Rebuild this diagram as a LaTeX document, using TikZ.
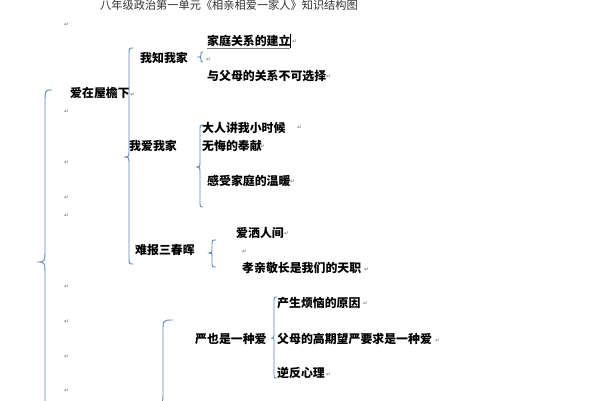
\documentclass[tikz,border=0pt]{standalone}
\usepackage{fontspec}
\newfontfamily\cjk{Noto Sans CJK SC}
\newfontfamily\dv{DejaVu Sans}
\definecolor{brc}{RGB}{95,135,185}
\tikzset{
  t/.style={anchor=west, inner sep=0pt, font=\cjk\bfseries\fontsize{11.9}{12}\selectfont},
  ttl/.style={anchor=west, inner sep=0pt, font=\cjk\fontsize{11.2}{12}\selectfont, text=black!80},
  pm/.style={anchor=west, inner sep=0pt, font=\dv\fontsize{6}{6}\selectfont, text=black!55},
  br/.style={draw=brc, line width=0.9pt},
}
\newcommand\mybrace[7]{% xe xl xc yt ym yb r
  \draw[br] (#1,#4) .. controls (#2,#4) .. (#2,#4+#7) -- (#2,#5-#7)
    .. controls (#2,#5) .. (#3,#5) .. controls (#2,#5) .. (#2,#5+#7)
    -- (#2,#6-#7) .. controls (#2,#6) .. (#1,#6);}
\begin{document}
\begin{tikzpicture}[x=1pt,y=-1pt]
\useasboundingbox (0,0) rectangle (598,400);
\fill[white] (0,0) rectangle (598,400);
\clip (0,0) rectangle (598,400);
% title
\node[ttl] (title) at (100,5) {八年级政治第一单元《相亲相爱一家人》知识结构图};
% left column paragraph marks
\foreach \yy [count=\i] in {25,112,163,198,216,287,322,357,391}
  \node[pm] (lp\i) at (64,\yy) {↵};
% level 1
\node[t] (a) at (70,93) {爱在屋檐下};
\node[pm] (ap) at (130,95) {↵};
% level 2
\node[t] (a1) at (140,58) {我知我家};
\node[t] (a2) at (129,146) {我爱我家};
\node[t] (a3) at (135,250) {难报三春晖};
\node[t] (b1) at (195,339) {严也是一种爱};
% level 3
\node[t] (a11) at (207,41) {家庭关系的建立};
\draw[black!50, line width=0.5pt] (a11.south west) ++(0,1.5) -- ++(83,0);
\draw[black, line width=0.8pt] (290,34) -- (290,48);
\node[pm] (a11p) at (292,42) {↵};
\node[pm] (a1p) at (206,60) {↵};
\node[t] (a12) at (207,76) {与父母的关系不可选择};
\node[pm] (a12p) at (326,77) {↵};
\node[t] (a21) at (202,128) {大人讲我小时候};
\node[pm] (a21p) at (297,128) {↵};
\node[t] (a22) at (202,146) {无悔的奉献};
\node[pm] (a22p) at (260,147) {↵};
\node[t] (a23) at (207,181) {感受家庭的温暖};
\node[pm] (a23p) at (290,182) {↵};
\node[t] (a31) at (236,233) {爱洒人间};
\node[pm] (a31p) at (284,234) {↵};
\node[pm] (a3p) at (242,252) {↵};
\node[t] (a32) at (242,268) {孝亲敬长是我们的天职};
\node[pm] (a32p) at (364,270) {↵};
\node[t] (b11) at (277,303) {产生烦恼的原因};
\node[pm] (b11p) at (363,304) {↵};
\node[t] (b12) at (277,339) {父母的高期望严要求是一种爱};
\node[pm] (b12p) at (435,341) {↵};
\node[t] (b13) at (277,373) {逆反心理};
\node[pm] (b13p) at (326,375) {↵};
% braces
\mybrace{52}{45}{37}{90}{262}{434}{14}
\mybrace{133}{129}{124}{48}{157}{264}{8}
\mybrace{203}{201}{197}{52}{57}{62}{2.5}
\mybrace{203}{200}{196}{125}{167}{207}{7}
\mybrace{216}{212}{209}{240}{253}{267}{5}
\mybrace{277}{274}{271}{297}{338}{378}{6}
\mybrace{173}{163}{152}{320}{404}{488}{12}
\end{tikzpicture}
\end{document}
